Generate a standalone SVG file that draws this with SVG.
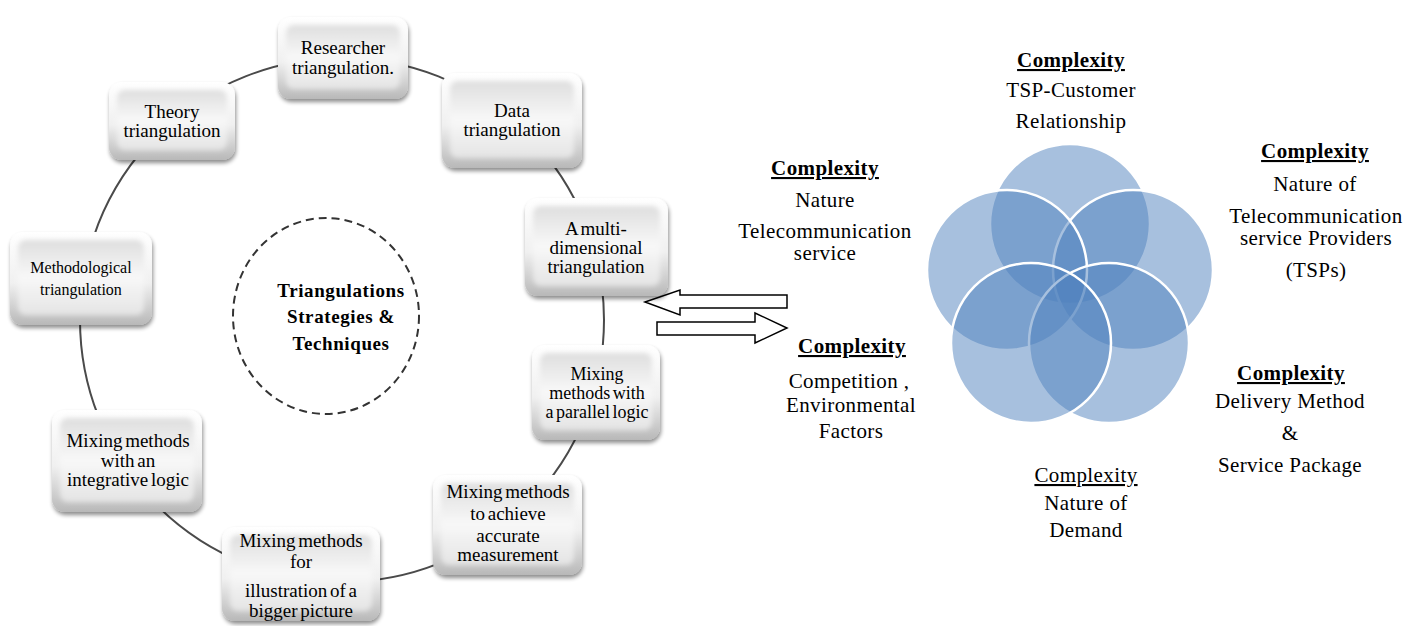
<svg xmlns="http://www.w3.org/2000/svg" width="1422" height="626" viewBox="0 0 1422 626">
  <style>
    .lbl { font-family: "Liberation Serif", "Times New Roman", serif; font-size: 19px; fill: #000; text-anchor: middle; word-spacing: -2px; }
    .small { font-size: 16px; }
    .tight { font-size: 18px; }
    .ctr { font-family: "Liberation Serif", "Times New Roman", serif; font-size: 19px; font-weight: bold; text-anchor: middle; letter-spacing: 0.6px; }
    .cx { font-family: "Liberation Serif", "Times New Roman", serif; font-size: 21px; fill: #000; text-anchor: middle; letter-spacing: 0.4px; }
    .head { font-weight: bold; text-decoration: underline; }
    .headr { text-decoration: underline; }
    .box { fill: url(#bevel); filter: url(#shadow); }
    .face { fill: url(#face); filter: url(#soft); }
    .link { fill: none; stroke: #4a4a4a; stroke-width: 2; }
    .dash { fill: none; stroke: #333; stroke-width: 2; stroke-dasharray: 8 5; }
    .arrow { fill: #fff; stroke: #000; stroke-width: 1.5; stroke-linejoin: miter; }
    .venn { fill: #4f81bd; fill-opacity: 0.5; stroke: #fff; stroke-width: 2.5; }
  </style>
  <defs>
    <linearGradient id="bevel" x1="0" y1="0" x2="0" y2="1">
      <stop offset="0" stop-color="#ffffff"/>
      <stop offset="0.55" stop-color="#f0f0f0"/>
      <stop offset="1" stop-color="#b8b8b8"/>
    </linearGradient>
    <linearGradient id="face" x1="0" y1="0" x2="0" y2="1">
      <stop offset="0" stop-color="#dedede"/>
      <stop offset="0.5" stop-color="#f8f8f8"/>
      <stop offset="1" stop-color="#e4e4e4"/>
    </linearGradient>
    <filter id="shadow" x="-10%" y="-10%" width="125%" height="130%">
      <feGaussianBlur in="SourceAlpha" stdDeviation="2"/>
      <feOffset dx="1" dy="3" result="b"/>
      <feComponentTransfer><feFuncA type="linear" slope="0.45"/></feComponentTransfer>
      <feMerge><feMergeNode/><feMergeNode in="SourceGraphic"/></feMerge>
    </filter>
    <filter id="soft" x="-10%" y="-10%" width="120%" height="120%">
      <feGaussianBlur stdDeviation="2.5"/>
    </filter>
  </defs>

  <rect width="1422" height="626" fill="#fff"/>

  <!-- ring connecting the triangulation boxes -->
  <g id="connectors">
    <circle class="link" cx="342" cy="320" r="262"/>
    <ellipse class="dash" cx="326" cy="316" rx="93" ry="98"/>
    <polygon class="arrow" points="645,302 680,290 680,295 787,295 787,308 680,308 680,315"/>
    <polygon class="arrow" points="657,322 755,322 755,313 787,328 755,343 755,335 657,335"/>
  </g>

  <g id="center">
    <text class="ctr" x="341" y="297">Triangulations</text>
    <text class="ctr" x="341" y="323">Strategies &amp;</text>
    <text class="ctr" x="341" y="350">Techniques</text>
  </g>

  <g id="researcher">
    <rect class="box" x="278" y="17" width="130" height="82" rx="13"/>
    <rect class="face" x="286" y="25" width="114" height="64" rx="8"/>
    <text class="lbl" x="343" y="54">Researcher</text>
    <text class="lbl" x="343" y="74">triangulation.</text>
  </g>

  <g id="theory">
    <rect class="box" x="109" y="82" width="126" height="78" rx="13"/>
    <rect class="face" x="117" y="90" width="110" height="60" rx="8"/>
    <text class="lbl" x="172" y="118">Theory</text>
    <text class="lbl" x="172" y="137">triangulation</text>
  </g>

  <g id="data">
    <rect class="box" x="442" y="73" width="140" height="95" rx="13"/>
    <rect class="face" x="450" y="81" width="124" height="77" rx="8"/>
    <text class="lbl" x="512" y="117">Data</text>
    <text class="lbl" x="512" y="136">triangulation</text>
  </g>

  <g id="multidimensional">
    <rect class="box" x="525" y="198" width="143" height="98" rx="13"/>
    <rect class="face" x="533" y="206" width="127" height="80" rx="8"/>
    <text class="lbl" x="596" y="235">A multi-</text>
    <text class="lbl" x="596" y="254">dimensional</text>
    <text class="lbl" x="596" y="273">triangulation</text>
  </g>

  <g id="methodological">
    <rect class="box" x="10" y="232" width="142" height="93" rx="13"/>
    <rect class="face" x="18" y="240" width="126" height="75" rx="8"/>
    <text class="lbl small" x="81" y="273">Methodological</text>
    <text class="lbl small" x="81" y="295">triangulation</text>
  </g>

  <g id="parallel">
    <rect class="box" x="532" y="345" width="128" height="95" rx="13"/>
    <rect class="face" x="540" y="353" width="112" height="77" rx="8"/>
    <text class="lbl tight" x="597" y="380">Mixing</text>
    <text class="lbl tight" x="597" y="399">methods with</text>
    <text class="lbl tight" x="597" y="418">a parallel logic</text>
  </g>

  <g id="accurate">
    <rect class="box" x="433" y="475" width="149" height="100" rx="13"/>
    <rect class="face" x="441" y="483" width="133" height="82" rx="8"/>
    <text class="lbl" x="508" y="498">Mixing methods</text>
    <text class="lbl" x="508" y="520">to achieve</text>
    <text class="lbl" x="508" y="542">accurate</text>
    <text class="lbl" x="508" y="561">measurement</text>
  </g>

  <g id="integrative">
    <rect class="box" x="52" y="410" width="150" height="102" rx="13"/>
    <rect class="face" x="60" y="418" width="134" height="84" rx="8"/>
    <text class="lbl" x="128" y="447">Mixing methods</text>
    <text class="lbl" x="128" y="467">with an</text>
    <text class="lbl" x="128" y="486">integrative  logic</text>
  </g>

  <g id="bigger-picture">
    <rect class="box" x="222" y="527" width="158" height="94" rx="13"/>
    <rect class="face" x="230" y="535" width="142" height="76" rx="8"/>
    <text class="lbl" x="301" y="547">Mixing methods</text>
    <text class="lbl" x="301" y="568">for</text>
    <text class="lbl" x="301" y="597">illustration of a</text>
    <text class="lbl" x="301" y="617">bigger picture</text>
  </g>

  <!-- five overlapping complexity circles -->
  <g id="venn">
    <circle class="venn" cx="1070" cy="224" r="80"/>
    <circle class="venn" cx="1133" cy="270" r="80"/>
    <circle class="venn" cx="1007" cy="270" r="80"/>
    <circle class="venn" cx="1109" cy="343" r="80"/>
    <circle class="venn" cx="1031" cy="343" r="80"/>
  </g>

  <g id="c-relationship">
    <text class="cx head" x="1071" y="67">Complexity</text>
    <text class="cx" x="1071" y="97">TSP-Customer</text>
    <text class="cx" x="1071" y="128">Relationship</text>
  </g>

  <g id="c-service">
    <text class="cx head" x="825" y="175">Complexity</text>
    <text class="cx" x="825" y="207">Nature</text>
    <text class="cx" x="825" y="238">Telecommunication</text>
    <text class="cx" x="825" y="260">service</text>
  </g>

  <g id="c-providers">
    <text class="cx head" x="1315" y="158">Complexity</text>
    <text class="cx" x="1315" y="191">Nature of</text>
    <text class="cx" x="1316" y="223">Telecommunication</text>
    <text class="cx" x="1316" y="245">service Providers</text>
    <text class="cx" x="1316" y="277">(TSPs)</text>
  </g>

  <g id="c-competition">
    <text class="cx head" x="852" y="353">Complexity</text>
    <text class="cx" x="849" y="388">Competition ,</text>
    <text class="cx" x="851" y="412">Environmental</text>
    <text class="cx" x="851" y="438">Factors</text>
  </g>

  <g id="c-delivery">
    <text class="cx head" x="1291" y="380">Complexity</text>
    <text class="cx" x="1290" y="408">Delivery Method</text>
    <text class="cx" x="1290" y="440">&amp;</text>
    <text class="cx" x="1290" y="472">Service Package</text>
  </g>

  <g id="c-demand">
    <text class="cx headr" x="1086" y="482">Complexity</text>
    <text class="cx" x="1086" y="510">Nature of</text>
    <text class="cx" x="1086" y="537">Demand</text>
  </g>
</svg>
